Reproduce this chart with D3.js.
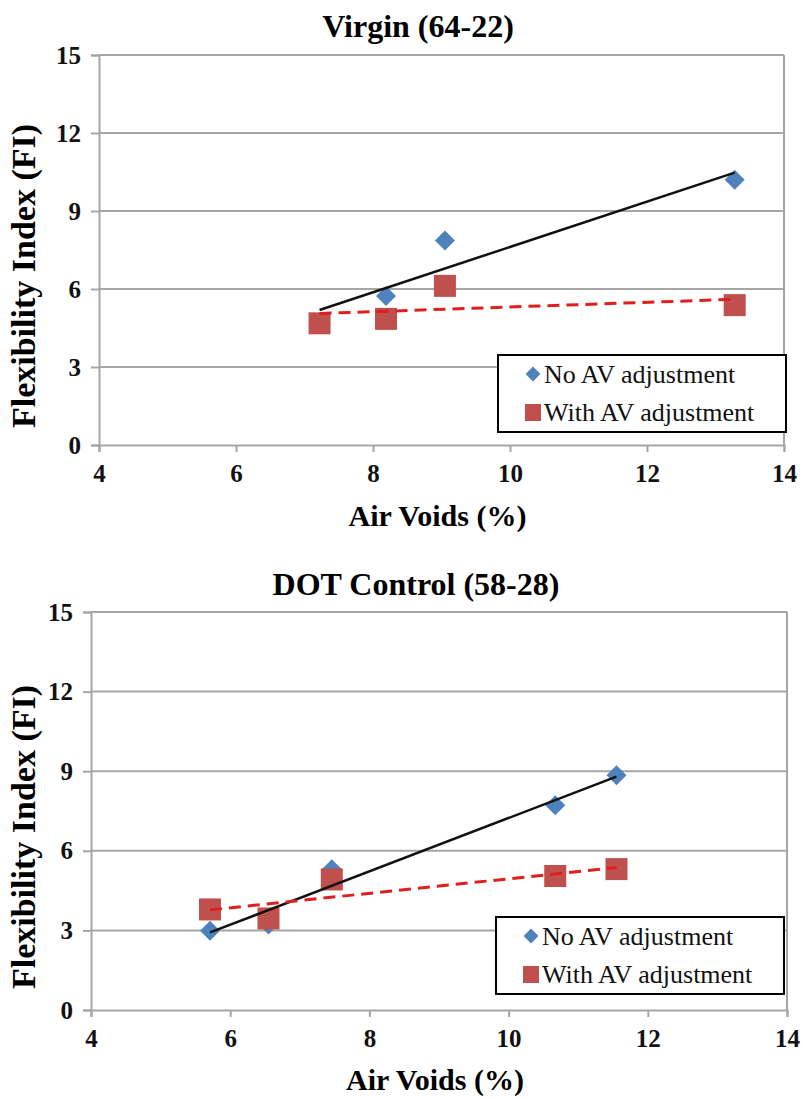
<!DOCTYPE html>
<html>
<head>
<meta charset="utf-8">
<script src="https://cdn.jsdelivr.net/npm/d3@7"></script>
<style>
  body { margin: 0; background: #fff; }
</style>
</head>
<body>
<svg id="chart" width="803" height="1099"></svg>
<script>
// top panel: Virgin (64-22)
var virginAV = [7.22, 8.19, 9.05, 13.28];
var virginNoAdj = [4.70, 5.73, 7.87, 10.20];
var virginWithAdj = [4.68, 4.85, 6.12, 5.38];

// bottom panel: DOT Control (58-28)
var dotAV = [5.71, 6.55, 7.46, 10.67, 11.55];
var dotNoAdj = [2.99, 3.22, 5.30, 7.72, 8.85];
var dotWithAdj = [3.79, 3.45, 4.92, 5.05, 5.31];

var xTicks = [4, 6, 8, 10, 12, 14];
var yTicks = [0, 3, 6, 9, 12, 15];
var seriesNames = ["No AV adjustment", "With AV adjustment"];

var blue = "#4f81bd";
var red = "#c0504d";
var gridColor = "#a6a6a6";
var serif = '"Liberation Serif"';

var svg = d3.select("#chart");

// least squares line, returns endpoints at min and max x
function trend(xs, ys) {
  var mx = d3.mean(xs), my = d3.mean(ys);
  var sxy = d3.sum(xs, (x, i) => (x - mx) * (ys[i] - my));
  var sxx = d3.sum(xs, x => (x - mx) * (x - mx));
  var b = sxy / sxx, a = my - b * mx;
  var x0 = d3.min(xs), x1 = d3.max(xs);
  return [[x0, a + b * x0], [x1, a + b * x1]];
}

function drawPanel(opt) {
  var g = svg.append("g");
  var x = d3.scaleLinear().domain([4, 14]).range([opt.left, opt.right]);
  var y = d3.scaleLinear().domain([0, 15]).range([opt.bottom, opt.top]);

  // gridlines
  g.selectAll(".grid")
    .data(yTicks.slice(1))
    .enter()
    .append("line")
    .attr("x1", opt.left).attr("x2", opt.right)
    .attr("y1", d => y(d)).attr("y2", d => y(d))
    .attr("stroke", gridColor).attr("stroke-width", 2);

  // right border
  g.append("line")
    .attr("x1", opt.right).attr("x2", opt.right)
    .attr("y1", opt.top).attr("y2", opt.bottom)
    .attr("stroke", gridColor).attr("stroke-width", 2);

  var yAxis = d3.axisLeft(y).tickValues(yTicks).tickSize(8).tickPadding(10).tickFormat(d3.format("d"));
  var xAxis = d3.axisBottom(x).tickValues(xTicks).tickSize(7).tickPadding(12).tickFormat(d3.format("d"));

  var ya = g.append("g").attr("transform", `translate(${opt.left},0)`).call(yAxis);
  var xa = g.append("g").attr("transform", `translate(0,${opt.bottom})`).call(xAxis);
  [ya, xa].forEach(a => {
    a.attr("font-family", serif).attr("font-weight", "bold");
    a.select(".domain").attr("stroke", gridColor).attr("stroke-width", 2);
    a.selectAll(".tick line").attr("stroke", gridColor).attr("stroke-width", 2);
    a.selectAll(".tick text")
      .attr("fill", "#111")
      .style("font-family", serif)
      .style("font-size", "25px")
      .style("font-weight", "bold");
  });

  // markers: diamonds then squares
  var diamond = d3.symbol().type(d3.symbolSquare).size(200);
  g.selectAll(".dia")
    .data(opt.xs)
    .enter()
    .append("path")
    .attr("d", diamond)
    .attr("fill", blue)
    .attr("transform", (d, i) => `translate(${x(d)},${y(opt.noAdj[i])}) rotate(45)`);

  g.selectAll(".sq")
    .data(opt.xs)
    .enter()
    .append("rect")
    .attr("x", d => x(d) - 11)
    .attr("y", (d, i) => y(opt.withAdj[i]) - 11)
    .attr("width", 22).attr("height", 22)
    .attr("fill", red);

  // trendlines
  var line = d3.line().x(d => x(d[0])).y(d => y(d[1]));
  g.append("path")
    .attr("d", line(trend(opt.xs, opt.noAdj)))
    .attr("stroke", "#111").attr("stroke-width", 2.5).attr("fill", "none");
  g.append("path")
    .attr("d", line(trend(opt.xs, opt.withAdj)))
    .attr("stroke", "#dd1f1f").attr("stroke-width", 3).attr("fill", "none")
    .attr("stroke-dasharray", "12,7");

  // titles
  g.append("text")
    .attr("x", opt.titleX)
    .attr("y", opt.titleY)
    .attr("text-anchor", "middle")
    .style("font-family", serif)
    .style("font-size", "32px").style("font-weight", "bold")
    .text(opt.title);

  g.append("text")
    .attr("x", (opt.left + opt.right) / 2 - 4)
    .attr("y", opt.xLabelY)
    .attr("text-anchor", "middle")
    .style("font-family", serif)
    .style("font-size", "30px").style("font-weight", "bold")
    .text("Air Voids (%)");

  g.append("text")
    .attr("transform", `translate(35,${(opt.top + opt.bottom) / 2 + 26}) rotate(-90)`)
    .attr("text-anchor", "middle")
    .style("font-family", serif)
    .style("font-size", "34px").style("font-weight", "bold")
    .text("Flexibility Index (FI)");

  // legend
  var lg = g.append("g").attr("transform", `translate(${opt.legX},${opt.legY})`);
  lg.append("rect")
    .attr("width", 288).attr("height", 77)
    .attr("fill", "#fff").attr("stroke", "#000").attr("stroke-width", 2);
  lg.append("path")
    .attr("d", d3.symbol().type(d3.symbolSquare).size(110))
    .attr("fill", blue)
    .attr("transform", "translate(35,19) rotate(45)");
  lg.append("rect")
    .attr("x", 27).attr("y", 49).attr("width", 16).attr("height", 17)
    .attr("fill", red);
  lg.selectAll(".lt")
    .data(seriesNames)
    .enter()
    .append("text")
    .attr("x", 46)
    .attr("y", (d, i) => 28 + i * 38)
    .attr("fill", "#111")
    .style("font-family", serif)
    .style("font-size", "26px")
    .text(d => d);
}

drawPanel({
  title: "Virgin (64-22)",
  xs: virginAV, noAdj: virginNoAdj, withAdj: virginWithAdj,
  left: 99, right: 784, top: 55, bottom: 445,
  titleX: 418, titleY: 37, xLabelY: 526,
  legX: 498, legY: 355
});

drawPanel({
  title: "DOT Control (58-28)",
  xs: dotAV, noAdj: dotNoAdj, withAdj: dotWithAdj,
  left: 91, right: 787, top: 612, bottom: 1010,
  titleX: 416, titleY: 595, xLabelY: 1090,
  legX: 496, legY: 917
});
</script>
</body>
</html>
